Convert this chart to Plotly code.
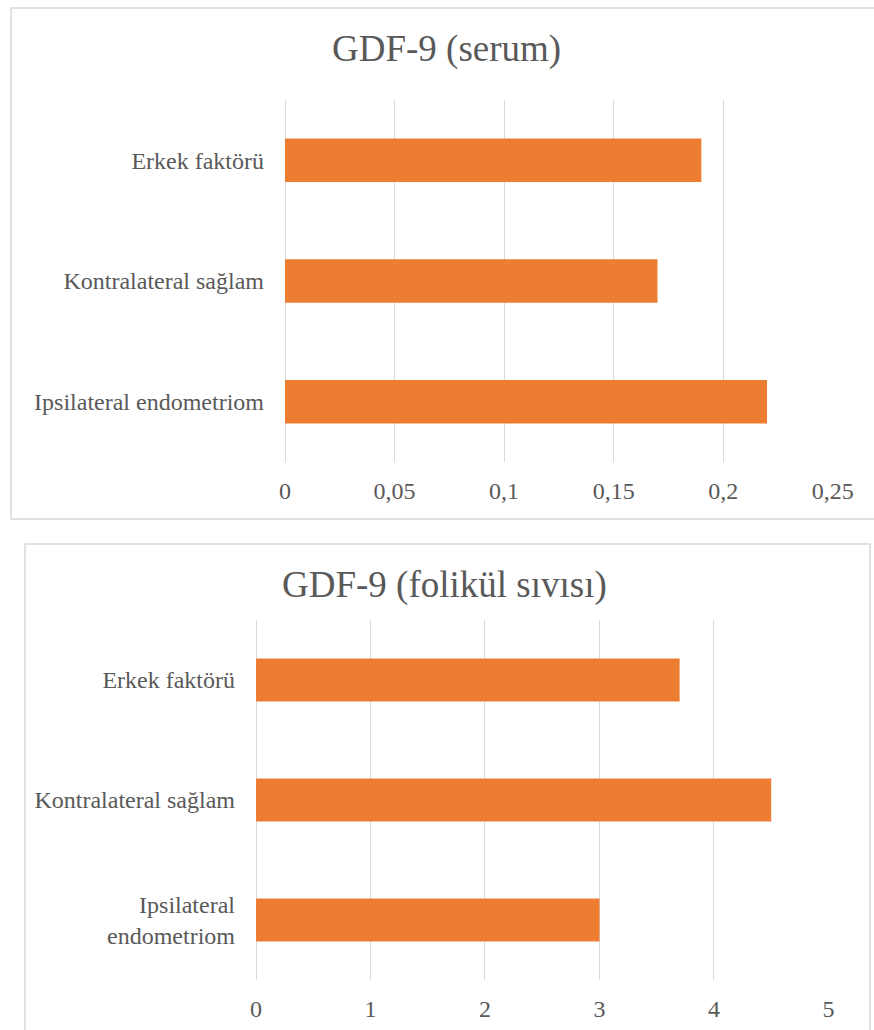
import plotly.graph_objects as go

W, H = 874, 1030

categories = ["Ipsilateral endometriom", "Kontralateral sağlam", "Erkek faktörü"]
categories_wrapped = ["Ipsilateral<br>endometriom", "Kontralateral sağlam", "Erkek faktörü"]
serum_values = [0.22, 0.17, 0.19]
folikul_values = [3.0, 4.5, 3.7]
title_serum = "GDF-9 (serum)"
title_folikul = "GDF-9 (folikül sıvısı)"

BAR = "#ED7D31"
TXT = "#595959"
GRID = "#D9D9D9"
FONT = "Liberation Serif, Times New Roman, DejaVu Serif, serif"


def px_x(x):
    return x / W


def px_y(y):
    return 1 - y / H


fig = go.Figure()
fig.add_trace(go.Bar(x=serum_values, y=categories, orientation="h",
                     marker=dict(color=BAR, line=dict(width=0)),
                     xaxis="x", yaxis="y", showlegend=False))
fig.add_trace(go.Bar(x=folikul_values, y=categories_wrapped, orientation="h",
                     marker=dict(color=BAR, line=dict(width=0)),
                     xaxis="x2", yaxis="y2", showlegend=False))

xaxis_common = dict(showline=False, zeroline=True, zerolinecolor=GRID, zerolinewidth=1,
                    gridcolor=GRID, gridwidth=1, showgrid=True, ticks="",
                    automargin=False,
                    tickfont=dict(family=FONT, size=24, color=TXT),
                    ticklabelstandoff=12)
yaxis_common = dict(type="category", categoryorder="array", automargin=False,
                    showgrid=False, zeroline=False, showline=False, ticks="",
                    tickfont=dict(family=FONT, size=24, color=TXT),
                    ticklabelstandoff=20)

fig.update_layout(
    template="none",
    width=W, height=H, autosize=False,
    margin=dict(l=0, r=0, t=0, b=0, pad=0),
    paper_bgcolor="white", plot_bgcolor="white",
    font=dict(family=FONT, color=TXT),
    separators=", ",
    bargap=0.64,
    xaxis=dict(domain=[px_x(285), px_x(833)], range=[0, 0.2501], dtick=0.05,
               anchor="y", **xaxis_common),
    yaxis=dict(domain=[px_y(462), px_y(100)], anchor="x",
               categoryarray=categories, **yaxis_common),
    xaxis2=dict(domain=[px_x(256), px_x(829)], range=[0, 5.005], dtick=1,
                anchor="y2", **xaxis_common),
    yaxis2=dict(domain=[px_y(980), px_y(620)], anchor="x2",
                categoryarray=categories_wrapped, **yaxis_common),
    shapes=[
        dict(type="rect", xref="paper", yref="paper",
             x0=px_x(11), x1=px_x(884), y0=px_y(519), y1=px_y(8),
             line=dict(color=GRID, width=1.5), layer="below"),
        dict(type="rect", xref="paper", yref="paper",
             x0=px_x(25), x1=px_x(870), y0=px_y(1040), y1=px_y(544),
             line=dict(color=GRID, width=1.5), layer="below"),
    ],
    annotations=[
        dict(text=title_serum, xref="paper", yref="paper", x=px_x(447), y=px_y(49),
             xanchor="center", yanchor="middle", showarrow=False,
             font=dict(family=FONT, size=37, color=TXT)),
        dict(text=title_folikul, xref="paper", yref="paper", x=px_x(444), y=px_y(585),
             xanchor="center", yanchor="middle", showarrow=False,
             font=dict(family=FONT, size=37, color=TXT)),
    ],
)

fig.write_html("out.html", config={"responsive": False})
